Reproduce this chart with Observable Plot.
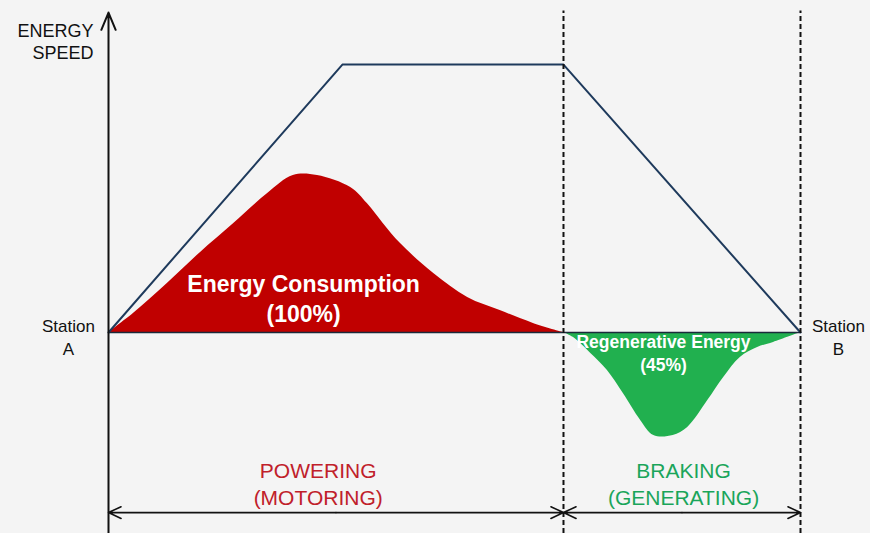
<!DOCTYPE html>
<html>
<head>
<meta charset="utf-8">
<script src="https://cdn.jsdelivr.net/npm/d3@7"></script>
<script src="https://cdn.jsdelivr.net/npm/@observablehq/plot@0.6"></script>
<style>
  html, body { margin: 0; padding: 0; background: #f4f4f4; }
  #chart svg { display: block; background: radial-gradient(ellipse at 50% 40%, #ffffff 0%, #f6f6f6 60%, #efefef 100%); }
</style>
</head>
<body>
<div id="chart"></div>
<script>
// Time axis: 0 = Station A, 100 = Station B; y: speed / energy (arbitrary units)
const stationNames = ["Station\nA", "Station\nB"];
const stationT = [0, 100];
const brakeStart = 65.75;
const speedT = [0, 33.8, 65.75, 100];
const speedV = [0, 100, 100, 0];
const energyT = [0, 3.6, 8.5, 13.3, 18.1, 23.0, 26.7, 30.2, 35.0, 37.4, 39.7, 42.2, 47.0, 51.9, 56.6, 61.4, 65.75];
const energyV = [0, 7.1, 18.3, 29.9, 40.7, 51.9, 58.6, 58.6, 54.1, 48.1, 40.7, 33.2, 22.0, 13.1, 8.2, 3.4, 0];
const regenT = [65.75, 67.2, 69.7, 72.1, 74.4, 76.9, 78.8, 81.6, 83.7, 86.6, 88.9, 91.3, 93.8, 96.1, 100];
const regenV = [0, -1.9, -7.8, -14.2, -22.8, -32.8, -38.4, -38.4, -35.4, -25.4, -16.8, -9.3, -5.6, -3.7, 0];
const phaseLabels = [
  {text: "POWERING\n(MOTORING)", t: 30.3, color: "#c0202a"},
  {text: "BRAKING\n(GENERATING)", t: 83.1, color: "#1aa55a"}
];
const areaLabels = [
  {text: "Energy Consumption\n(100%)", t: 28.2, v: 13, size: 23},
  {text: "Regenerative Energy\n(45%)", t: 80.2, v: -7.3, size: 17.5}
];
const spans = [[0, brakeStart], [brakeStart, 100]];

const speed = speedT.map((t, i) => ({t, v: speedV[i]}));
const energy = energyT.map((t, i) => ({t, v: energyV[i]}));
const regen = regenT.map((t, i) => ({t, v: regenV[i]}));
// double-headed arrows: two arrows from each span's middle outward
const spanArrows = spans.flatMap(([a, b]) => [{from: (a + b) / 2, to: a}, {from: (a + b) / 2, to: b}]);

const font = "Liberation Sans, Arial, sans-serif";
const arrowY = -67.2;
const stationText = (i, dx) => Plot.text([{name: stationNames[i], t: stationT[i]}], {
  x: "t", y: () => 0, text: "name", dx, dy: -17, lineAnchor: "top", fontSize: 17, fill: "#111", lineHeight: 1.35
});

const chart = Plot.plot({
  width: 870,
  height: 533,
  marginLeft: 108,
  marginRight: 70,
  marginTop: 0,
  marginBottom: 0,
  style: {fontFamily: font, background: "transparent", overflow: "visible"},
  x: {domain: [0, 100], axis: null},
  y: {domain: [-75, 123.9], axis: null},
  marks: [
    Plot.areaY(energy, {x: "t", y: "v", fill: "#c00000", curve: "catmull-rom"}),
    Plot.areaY(regen, {x: "t", y: "v", fill: "#21b04f", curve: "catmull-rom"}),
    Plot.ruleY([0], {x1: 0, x2: 100, stroke: "#1b2a3a", strokeWidth: 1.5}),
    Plot.line(speed, {x: "t", y: "v", stroke: "#1e3a5c", strokeWidth: 2}),
    Plot.ruleX([brakeStart, 100], {y1: -75, y2: 120, stroke: "#111", strokeWidth: 2, strokeDasharray: "5,3"}),
    Plot.arrow([{a: -75, b: 119.4}], {x1: () => 0, x2: () => 0, y1: "a", y2: "b", stroke: "#111", strokeWidth: 2, headLength: 14, headAngle: 45}),
    Plot.arrow(spanArrows, {x1: "from", x2: "to", y1: () => arrowY, y2: () => arrowY, stroke: "#111", strokeWidth: 1.6, headLength: 13, headAngle: 50}),
    Plot.text(["ENERGY\nSPEED"], {x: 0, y: 123.9, dx: -15, dy: 21, textAnchor: "end", lineAnchor: "top", fontSize: 18, fill: "#111", lineHeight: 1.22, text: d => d}),
    stationText(0, -40),
    stationText(1, 38),
    Plot.text(areaLabels, {x: "t", y: "v", text: "text", fontSize: "size", fill: "white", fontWeight: "bold", lineHeight: 1.3, letterSpacing: "-0.4px"}),
    Plot.text(phaseLabels, {x: "t", y: -56, text: "text", fill: "color", fontSize: 21, lineHeight: 1.33})
  ]
});
document.getElementById("chart").append(chart);
</script>
</body>
</html>
